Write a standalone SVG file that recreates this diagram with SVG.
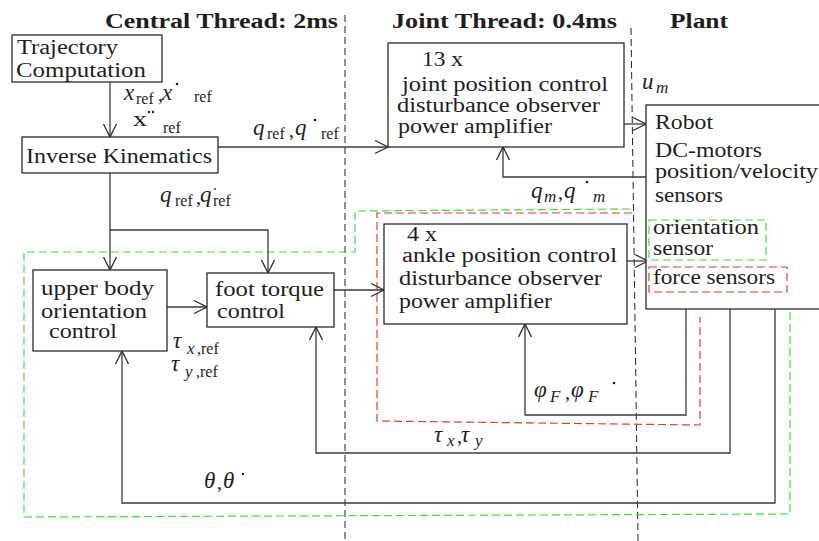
<svg xmlns="http://www.w3.org/2000/svg" width="819" height="541" viewBox="0 0 819 541">
  <defs>
    <style>
      .t { font-family: 'Liberation Serif', serif; font-size: 20px; fill: #1e1e1e; }
      .h { font-family: 'Liberation Serif', serif; font-size: 20px; font-weight: bold; fill: #1e1e1e; }
      .m { font-family: 'Liberation Serif', serif; font-size: 23px; font-style: italic; fill: #1e1e1e; }
      .s { font-family: 'Liberation Serif', serif; font-size: 16px; fill: #1e1e1e; }
      .si { font-family: 'Liberation Serif', serif; font-size: 17px; font-style: italic; fill: #1e1e1e; }
      .box { fill: #ffffff; stroke: #2a2a2a; stroke-width: 1.3; }
      .wire { fill: none; stroke: #3a3a3a; stroke-width: 1.3; }
      .arrow { marker-end: url(#head); }
      .sep { fill: none; stroke: #222222; stroke-width: 1; stroke-dasharray: 7 4; }
      .grn { fill: none; stroke: #2ee82e; stroke-width: 1.2; stroke-dasharray: 8 4; }
      .red { fill: none; stroke: #f03232; stroke-width: 1.2; stroke-dasharray: 8 4; }
      .dot { fill: #1e1e1e; }
    </style>
    <marker id="head" markerUnits="userSpaceOnUse" viewBox="-15 -8 17 16" refX="0" refY="0" markerWidth="17" markerHeight="16" orient="auto">
      <path d="M-13,-6.5 L0,0 L-13,6.5" fill="none" stroke="#2a2a2a" stroke-width="1.3"/>
    </marker>
  </defs>

  <rect width="819" height="541" fill="#ffffff"/>

  <!-- thread boundaries and headings -->
  <g id="threads">
    <line class="sep" x1="345" y1="15" x2="345" y2="541"/>
    <line class="sep" x1="631" y1="28" x2="638" y2="541"/>
    <text class="h" x="105" y="28" textLength="233" lengthAdjust="spacingAndGlyphs">Central Thread: 2ms</text>
    <text class="h" x="392" y="28" textLength="225" lengthAdjust="spacingAndGlyphs">Joint Thread: 0.4ms</text>
    <text class="h" x="670" y="28" textLength="58" lengthAdjust="spacingAndGlyphs">Plant</text>
  </g>

  <!-- dashed groupings: orientation loop (green) and ankle loop (red) -->
  <g id="loops">
    <path class="grn" d="M630,209 L355,211 L355,252 L24,252 L24,517 L790,514 L790,312"/>
    <path class="red" d="M632,213 L377,213 L377,421 L700,425 L700,317"/>
  </g>

  <!-- connectors -->
  <g id="connectors">
    <path class="wire arrow" d="M110,82 L110,137"/>
    <path class="wire arrow" d="M218,147 L388,147"/>
    <path class="wire arrow" d="M110,173 L110,270"/>
    <path class="wire arrow" d="M110,230 L268,230 L268,273"/>
    <path class="wire arrow" d="M624,124 L646,124"/>
    <path class="wire arrow" d="M646,177 L503,177 L503,147"/>
    <path class="wire arrow" d="M167,307 L207,307"/>
    <path class="wire arrow" d="M334,290 L384,290"/>
    <path class="wire arrow" d="M627,261 L648,261"/>
    <path class="wire arrow" d="M686,309 L686,415 L525,415 L525,324"/>
    <path class="wire arrow" d="M730,309 L730,453 L316,453 L316,327"/>
    <path class="wire arrow" d="M775,309 L775,503 L122,503 L122,351"/>
  </g>

  <!-- signal labels -->
  <g id="labels">
    <!-- x_ref, x-dot_ref -->
    <text class="m" x="124" y="100">x</text>
    <text class="s" x="136" y="104">ref</text>
    <text class="t" x="158" y="101">,</text>
    <text class="m" x="162" y="100">x</text>
    <circle class="dot" cx="177" cy="84" r="1.3"/>
    <text class="s" x="194" y="102" font-size="19">ref</text>
    <!-- x-ddot_ref -->
    <text class="t" x="133" y="126" font-size="22" textLength="14" lengthAdjust="spacingAndGlyphs">x</text>
    <circle class="dot" cx="149" cy="112" r="1.2"/>
    <circle class="dot" cx="153" cy="112" r="1.2"/>
    <text class="s" x="163" y="133" font-size="19">ref</text>
    <!-- q_ref, q-dot_ref (to joint thread) -->
    <text class="m" x="253" y="135">q</text>
    <text class="s" x="267" y="139">ref</text>
    <text class="t" x="289" y="137">,</text>
    <text class="m" x="295" y="135">q</text>
    <circle class="dot" cx="315" cy="120" r="1.3"/>
    <text class="s" x="321" y="139">ref</text>
    <!-- u_m -->
    <text class="m" x="642" y="89">u</text>
    <text class="si" x="656" y="93">m</text>
    <!-- q_m, q-dot_m -->
    <text class="m" x="531" y="198">q</text>
    <text class="si" x="544" y="202">m</text>
    <text class="t" x="558" y="199">,</text>
    <text class="m" x="564" y="198">q</text>
    <circle class="dot" cx="587" cy="182" r="1.3"/>
    <text class="si" x="593" y="202">m</text>
    <!-- q_ref, q-dot_ref (to feet) -->
    <text class="m" x="160" y="202">q</text>
    <text class="s" x="175" y="206">ref</text>
    <text class="t" x="196" y="204">,</text>
    <text class="m" x="200" y="202">q</text>
    <circle class="dot" cx="215" cy="189" r="0.9"/>
    <text class="s" x="213" y="206">ref</text>
    <!-- tau_x,ref / tau_y,ref -->
    <text class="m" x="173" y="348">τ</text>
    <text class="si" x="187" y="354">x</text>
    <text class="s" x="197" y="354">,ref</text>
    <text class="m" x="171" y="371">τ</text>
    <text class="si" x="185" y="377">y</text>
    <text class="s" x="196" y="377">,ref</text>
    <!-- phi_F, phi-dot_F -->
    <text class="m" x="534" y="397">φ</text>
    <text class="si" x="550" y="402">F</text>
    <text class="t" x="565" y="399">,</text>
    <text class="m" x="571" y="397">φ</text>
    <text class="si" x="588" y="402">F</text>
    <circle class="dot" cx="614" cy="383" r="1.3"/>
    <!-- tau_x, tau_y -->
    <text class="m" x="434" y="442">τ</text>
    <text class="si" x="447" y="446">x</text>
    <text class="t" x="457" y="443">,</text>
    <text class="m" x="461" y="442">τ</text>
    <text class="si" x="475" y="446">y</text>
    <!-- theta, theta-dot -->
    <text class="m" x="204" y="488">θ</text>
    <text class="t" x="217" y="489">,</text>
    <text class="m" x="223" y="488">θ</text>
    <circle class="dot" cx="243" cy="474" r="1.2"/>
  </g>

  <!-- central thread blocks -->
  <g id="trajectory">
    <rect class="box" x="12" y="35" width="150" height="47"/>
    <text class="t" x="17" y="54" textLength="101" lengthAdjust="spacingAndGlyphs">Trajectory</text>
    <text class="t" x="16" y="77" textLength="130" lengthAdjust="spacingAndGlyphs">Computation</text>
  </g>
  <g id="inverse-kinematics">
    <rect class="box" x="22" y="137" width="196" height="36"/>
    <text class="t" x="26" y="163" textLength="186" lengthAdjust="spacingAndGlyphs">Inverse Kinematics</text>
  </g>
  <g id="upper-body">
    <rect class="box" x="33" y="270" width="134" height="81"/>
    <text class="t" x="41" y="295" textLength="113" lengthAdjust="spacingAndGlyphs">upper body</text>
    <text class="t" x="41" y="318" textLength="106" lengthAdjust="spacingAndGlyphs">orientation</text>
    <text class="t" x="49" y="338" textLength="68" lengthAdjust="spacingAndGlyphs">control</text>
  </g>
  <g id="foot-torque">
    <rect class="box" x="207" y="273" width="127" height="54"/>
    <text class="t" x="215" y="296" textLength="109" lengthAdjust="spacingAndGlyphs">foot torque</text>
    <text class="t" x="217" y="318" textLength="68" lengthAdjust="spacingAndGlyphs">control</text>
  </g>

  <!-- joint thread blocks -->
  <g id="joint-control">
    <rect class="box" x="388" y="43" width="236" height="104"/>
    <text class="t" x="422" y="66" textLength="41" lengthAdjust="spacingAndGlyphs">13 x</text>
    <text class="t" x="402" y="91" textLength="206" lengthAdjust="spacingAndGlyphs">joint position control</text>
    <text class="t" x="397" y="112" textLength="203" lengthAdjust="spacingAndGlyphs">disturbance observer</text>
    <text class="t" x="398" y="133" textLength="154" lengthAdjust="spacingAndGlyphs">power amplifier</text>
  </g>
  <g id="ankle-control">
    <rect class="box" x="384" y="224" width="243" height="100"/>
    <text class="t" x="407" y="241" textLength="30" lengthAdjust="spacingAndGlyphs">4 x</text>
    <text class="t" x="402" y="262" textLength="215" lengthAdjust="spacingAndGlyphs">ankle position control</text>
    <text class="t" x="399" y="285" textLength="203" lengthAdjust="spacingAndGlyphs">disturbance observer</text>
    <text class="t" x="399" y="308" textLength="153" lengthAdjust="spacingAndGlyphs">power amplifier</text>
  </g>

  <!-- plant -->
  <g id="robot">
    <rect class="box" x="646" y="105" width="200" height="204"/>
    <text class="t" x="655" y="129" textLength="58" lengthAdjust="spacingAndGlyphs">Robot</text>
    <text class="t" x="655" y="157" textLength="107" lengthAdjust="spacingAndGlyphs">DC-motors</text>
    <text class="t" x="655" y="178" textLength="163" lengthAdjust="spacingAndGlyphs">position/velocity</text>
    <text class="t" x="655" y="202" textLength="68" lengthAdjust="spacingAndGlyphs">sensors</text>
  </g>
  <g id="orientation-sensor">
    <rect class="grn" x="649" y="220" width="117" height="40"/>
    <text class="t" x="653" y="234" textLength="106" lengthAdjust="spacingAndGlyphs">orientation</text>
    <text class="t" x="653" y="255" textLength="60" lengthAdjust="spacingAndGlyphs">sensor</text>
  </g>
  <g id="force-sensors">
    <rect class="red" x="649" y="267" width="138" height="25"/>
    <text class="t" x="653" y="284" textLength="122" lengthAdjust="spacingAndGlyphs">force sensors</text>
  </g>
</svg>
